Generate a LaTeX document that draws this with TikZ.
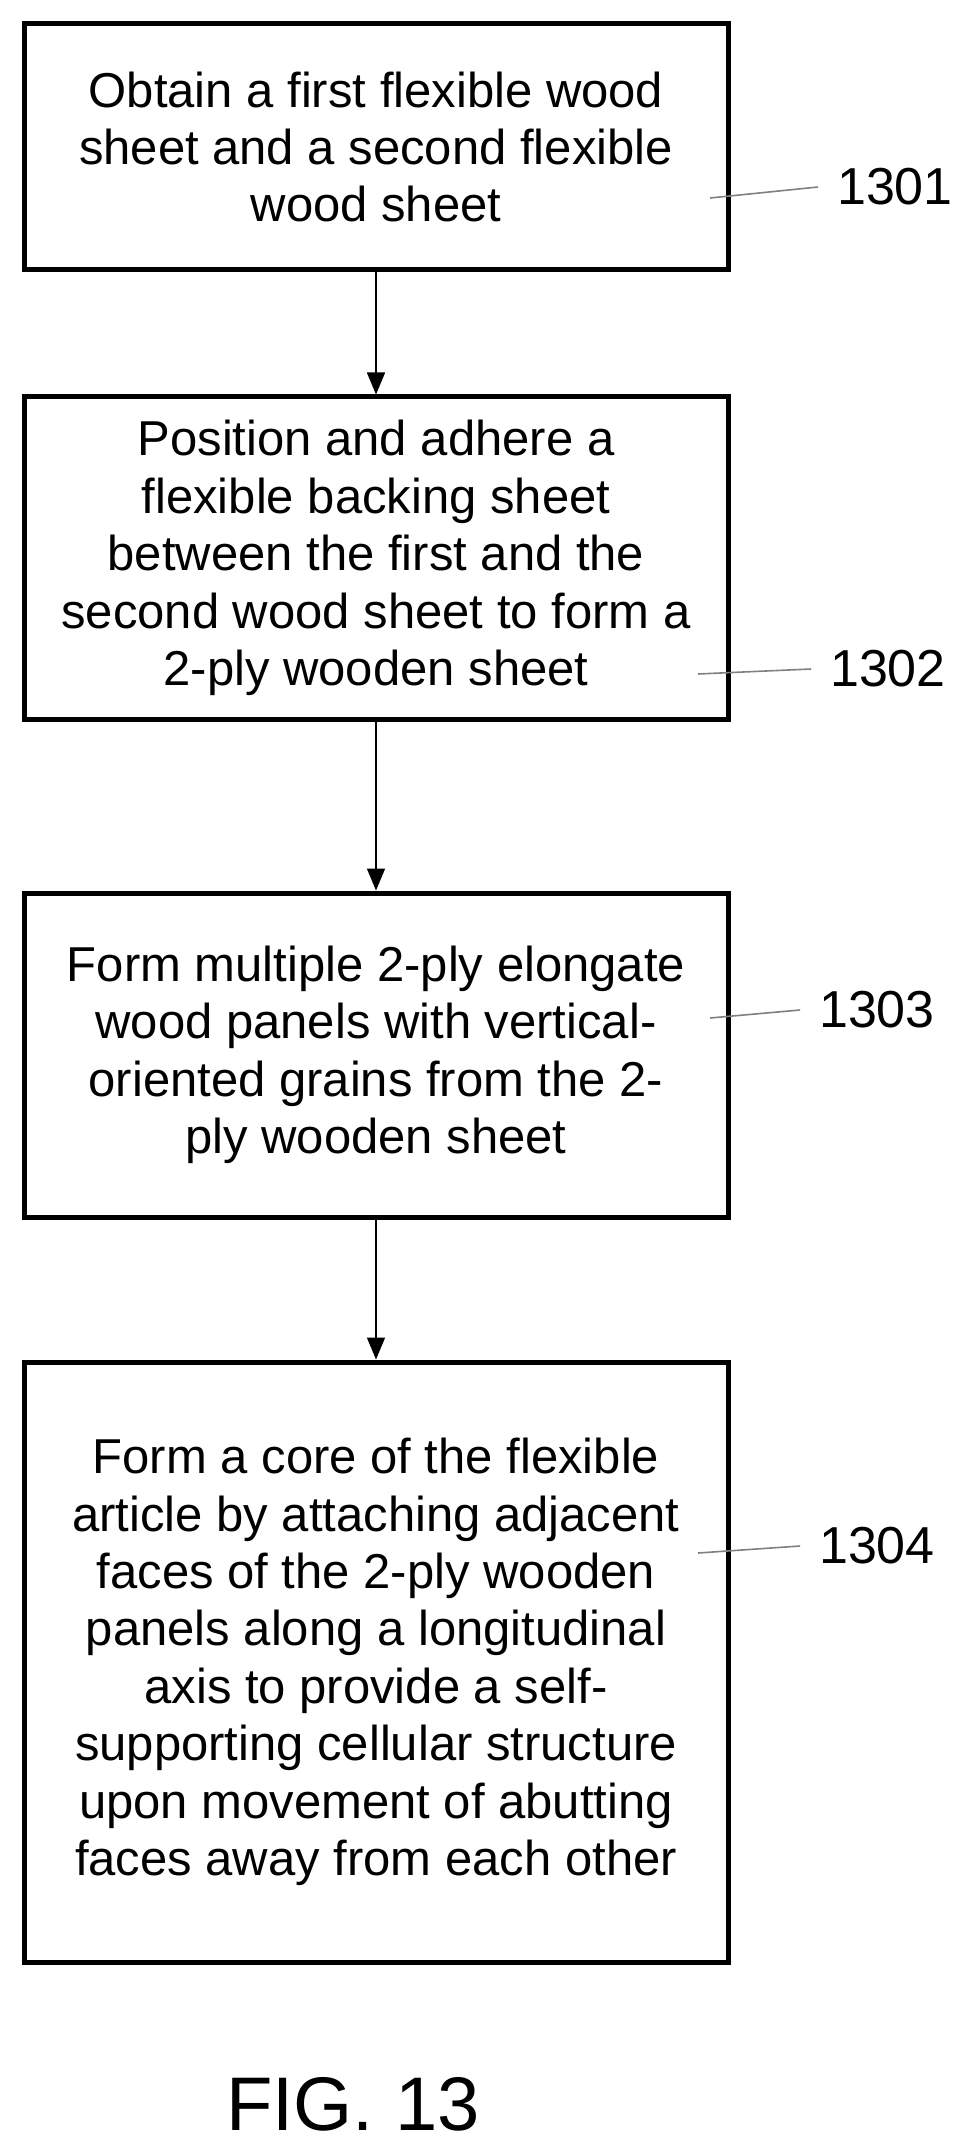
\documentclass[tikz,border=0pt]{standalone}
\usepackage{fontspec}
\setmainfont{Liberation Sans}
\usetikzlibrary{arrows.meta}

\tikzset{
  stepbox/.style={draw, line width=2.5pt, align=center,
    minimum width=352pt, font=\fontsize{24.5}{28.7}\selectfont},
  flow/.style={-{Triangle[length=11pt,width=9pt]}, line width=0.8pt},
  leader/.style={gray, line width=0.8pt},
  refnum/.style={font=\fontsize{26}{28}\selectfont}
}

\begin{document}
\begin{tikzpicture}[x=0.5pt, y=-0.5pt]
      \useasboundingbox (0, 0) rectangle (958, 2150);

      \node [stepbox, minimum height=123pt] (s1) at (376, 147)
        {Obtain a first flexible wood\\sheet and a second flexible\\wood sheet};
      \node [stepbox, minimum height=161pt] (s2) at (376, 558)
        {Position and adhere a\\flexible backing sheet\\between the first and the\\second wood sheet to form a\\2-ply wooden sheet};
      \node [stepbox, minimum height=162pt] (s3) at (376, 1055)
        {Form multiple 2-ply elongate\\wood panels with vertical-\\oriented grains from the 2-\\ply wooden sheet};
      \node [stepbox, minimum height=300pt] (s4) at (376, 1662)
        {Form a core of the flexible\\article by attaching adjacent\\faces of the 2-ply wooden\\panels along a longitudinal\\axis to provide a self-\\supporting cellular structure\\upon movement of abutting\\faces away from each other};

      \draw [flow] (s1) -- (s2);
      \draw [flow] (s2) -- (s3);
      \draw [flow] (s3) -- (s4);

      % reference numerals
      \node [refnum] (n1) at (895, 187) {1301};
      \node [refnum] (n2) at (888, 669) {1302};
      \node [refnum] (n3) at (877, 1010) {1303};
      \node [refnum] (n4) at (877, 1546) {1304};
      \coordinate (e1) at (710, 198);
      \coordinate (e2) at (698, 674);
      \coordinate (e3) at (710, 1018);
      \coordinate (e4) at (698, 1553);
      \draw [leader] (e1) -- ([xshift=-6pt]n1.west);
      \draw [leader] (e2) -- ([xshift=-6pt]n2.west);
      \draw [leader] (e3) -- ([xshift=-6pt]n3.west);
      \draw [leader] (e4) -- ([xshift=-6pt]n4.west);

      \node [font=\fontsize{38}{40}\selectfont] (fig) at (353, 2104) {FIG. 13};
\end{tikzpicture}
\end{document}
